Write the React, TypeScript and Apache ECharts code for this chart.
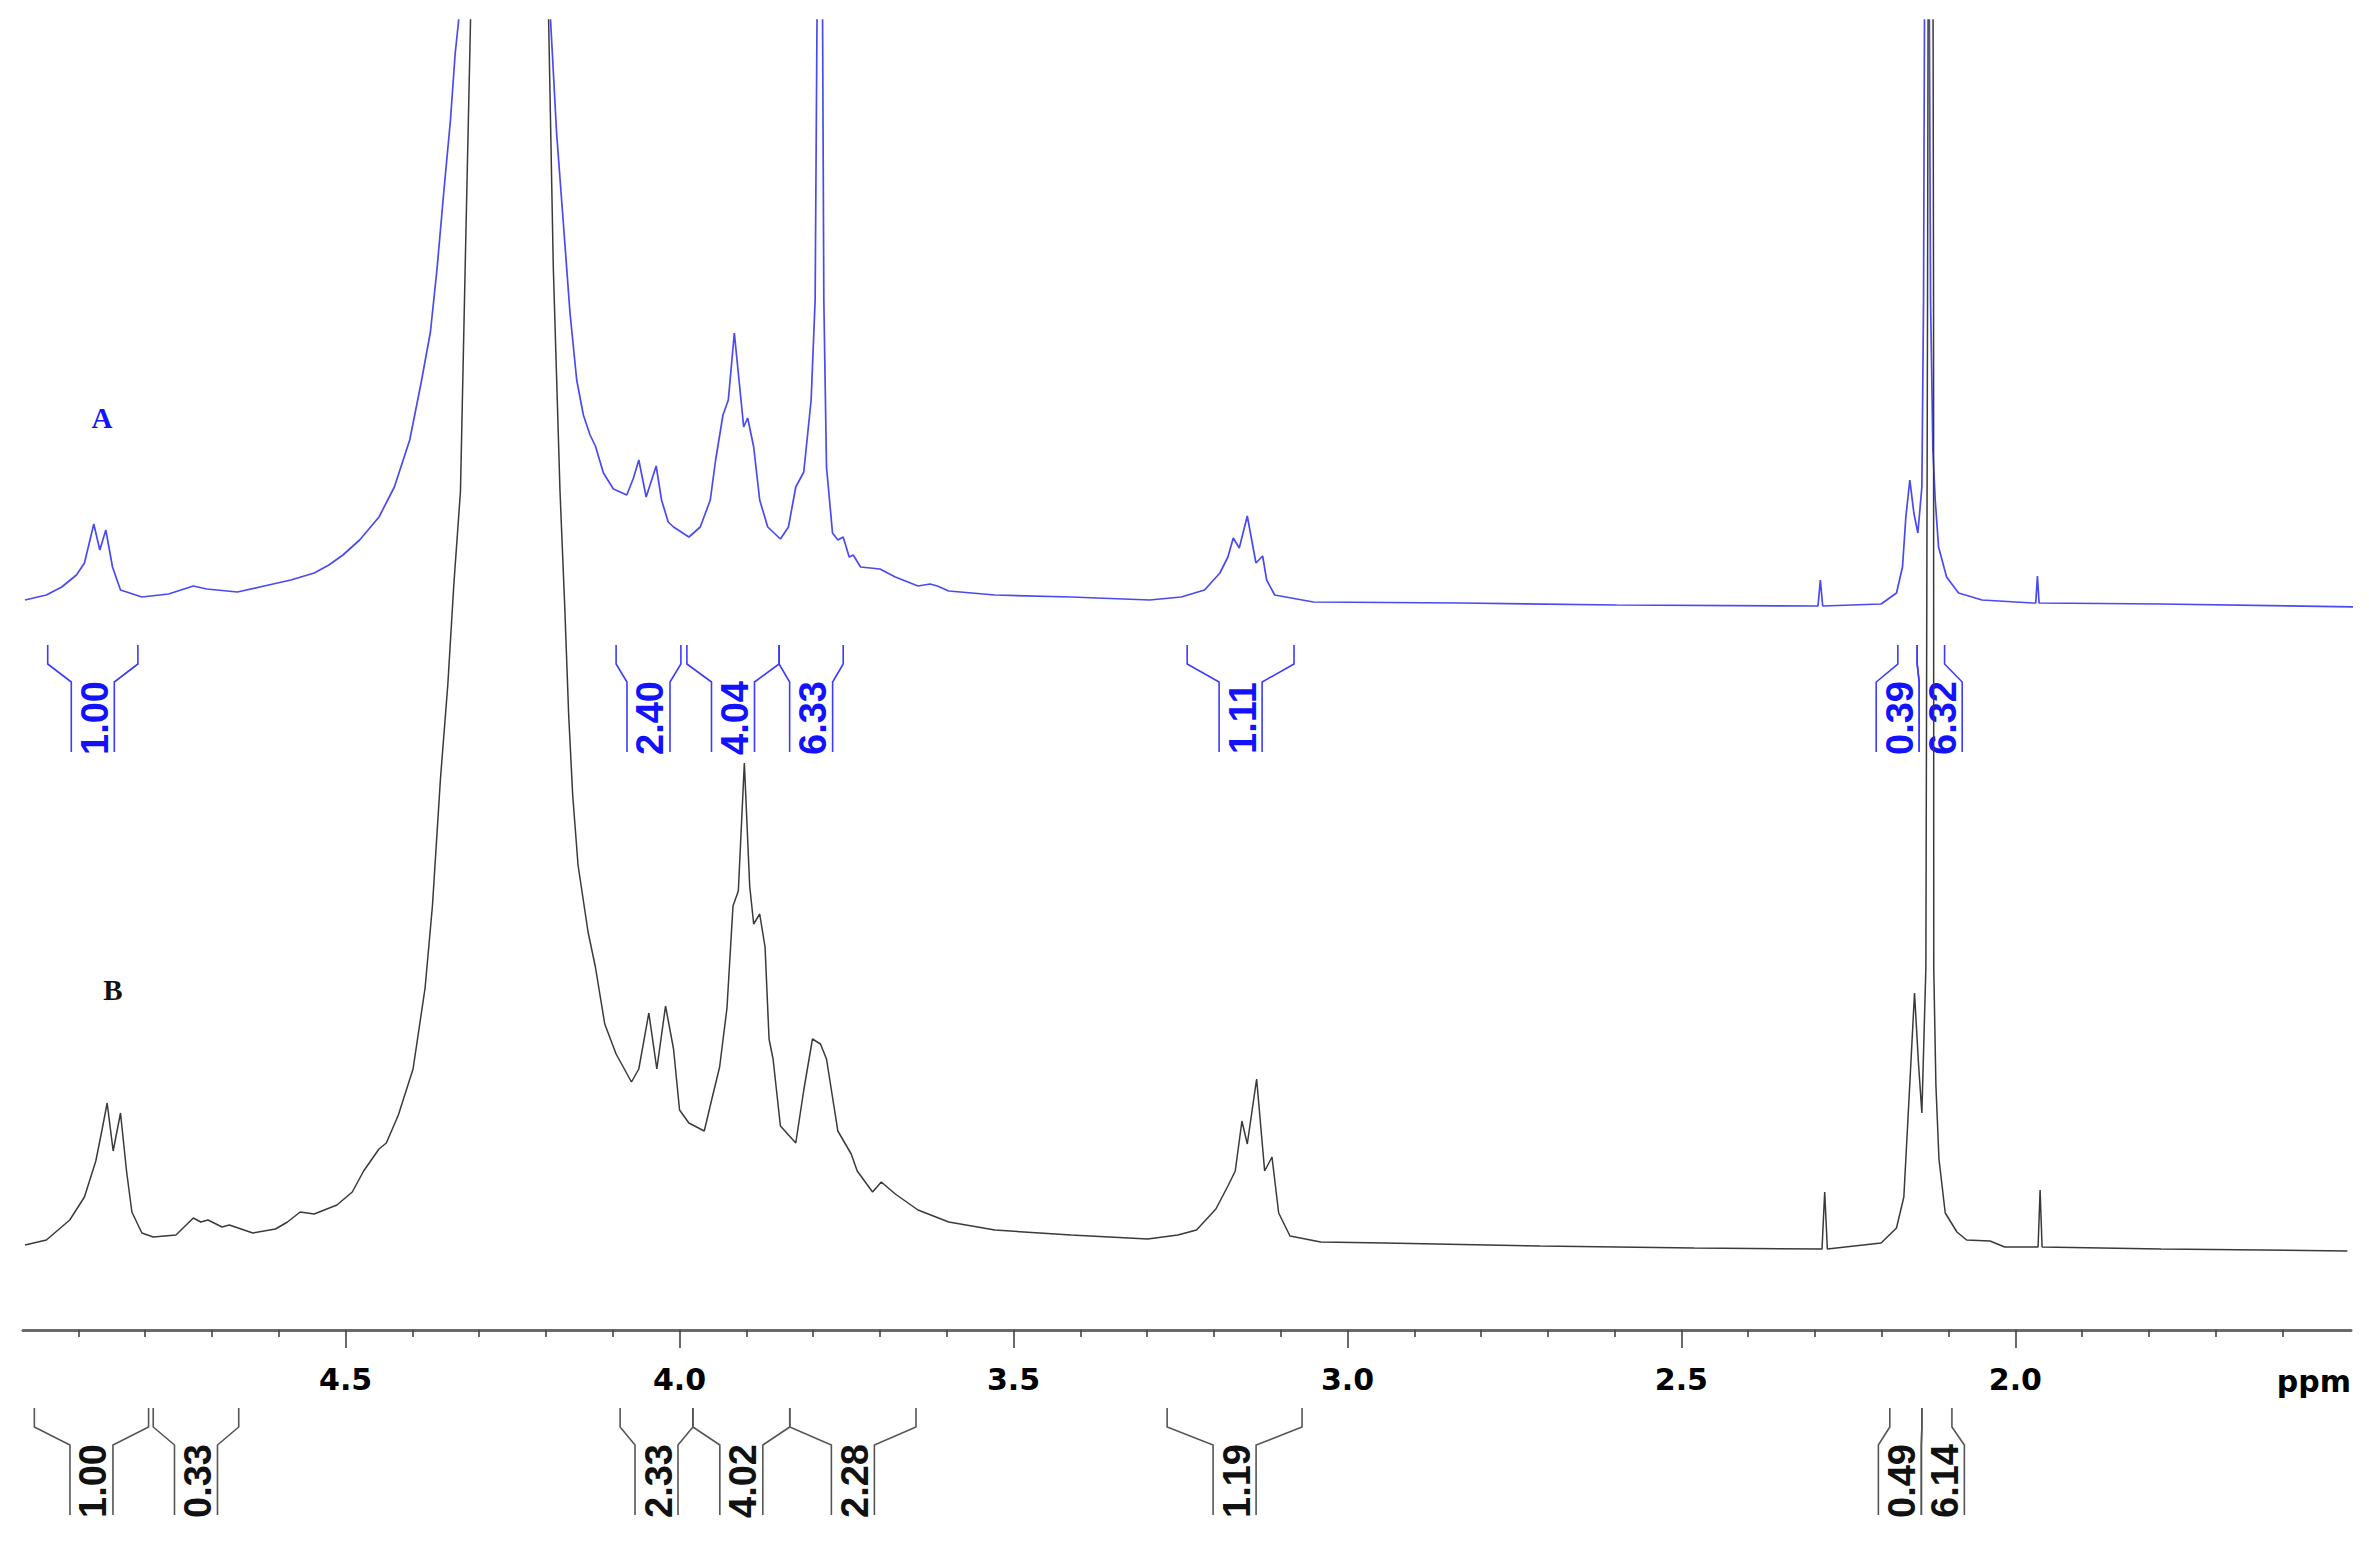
import React, { useEffect, useRef } from "react";
import * as echarts from "echarts";

// Chemical shift axis (ppm)
const ppmMin = 1.4975;
const ppmMax = 4.983;
const majorTicks = [4.5, 4.0, 3.5, 3.0, 2.5, 2.0];
const minorTicks = [4.9, 4.8, 4.7, 4.6, 4.4, 4.3, 4.2, 4.1, 3.9, 3.8, 3.7, 3.6, 3.4, 3.3, 3.2, 3.1, 2.9, 2.8, 2.7, 2.6, 2.4, 2.3, 2.2, 2.1, 1.9, 1.8, 1.7, 1.6];

// Spectrum A (blue, upper trace): [ppm, intensity above own baseline]
const spectrumA: number[][] = [
  [4.98, 0], [4.948, 5], [4.925, 13], [4.903, 25], [4.891, 37], [4.877, 76], [4.868, 50], [4.859, 70],
  [4.849, 33], [4.837, 10], [4.805, 3], [4.765, 6], [4.728, 14], [4.708, 11], [4.662, 8], [4.622, 14],
  [4.582, 20], [4.547, 27], [4.525, 35], [4.504, 45], [4.479, 60], [4.45, 83], [4.427, 113], [4.404, 160],
  [4.387, 217], [4.373, 268], [4.363, 332], [4.353, 408], [4.343, 480], [4.336, 546], [4.331, 578],
  [4.3, 900], [4.262, 1300], [4.22, 900], [4.193, 578], [4.184, 466], [4.174, 377], [4.164, 287],
  [4.154, 220], [4.144, 185], [4.134, 165], [4.126, 154], [4.114, 127], [4.099, 111], [4.079, 105],
  [4.069, 122], [4.061, 140], [4.05, 103], [4.035, 134], [4.027, 100], [4.017, 78], [4.009, 73],
  [3.986, 63], [3.969, 73], [3.954, 100], [3.946, 140], [3.935, 185], [3.927, 200], [3.918, 267],
  [3.908, 200], [3.904, 173], [3.898, 182], [3.889, 153], [3.88, 100], [3.868, 73], [3.849, 61],
  [3.837, 73], [3.826, 113], [3.814, 128], [3.803, 200], [3.797, 300], [3.794, 600], [3.79, 1500],
  [3.786, 600], [3.784, 300], [3.78, 133], [3.771, 67], [3.763, 60], [3.755, 63], [3.746, 43],
  [3.74, 45], [3.729, 33], [3.7, 31], [3.677, 23], [3.643, 14], [3.625, 16], [3.614, 14], [3.597, 9],
  [3.528, 5], [3.414, 3], [3.296, 0], [3.249, 3], [3.214, 10], [3.191, 27], [3.179, 43], [3.171, 62],
  [3.162, 52], [3.15, 84], [3.137, 37], [3.127, 44], [3.121, 20], [3.109, 5], [3.051, -2], [2.83, -3],
  [2.597, -5], [2.3, -6], [2.2955, -6], [2.292, 20], [2.2885, -6], [2.201, -4], [2.178, 7], [2.169, 33],
  [2.164, 83], [2.158, 120], [2.152, 87], [2.146, 67], [2.14, 113], [2.1375, 300], [2.1355, 700],
  [2.1325, 2000], [2.1295, 700], [2.127, 300], [2.1235, 150], [2.12, 100], [2.115, 53], [2.103, 23],
  [2.085, 7], [2.05, 0], [1.974, -3], [1.9695, -3], [1.967, 24], [1.9645, -3], [1.782, -4], [1.492, -7],
];

// Spectrum B (black, lower trace): [ppm, intensity above own baseline]
const spectrumB: number[][] = [
  [4.98, 0], [4.948, 5], [4.913, 25], [4.891, 48], [4.874, 84], [4.865, 114], [4.857, 142], [4.848, 94],
  [4.837, 132], [4.828, 74], [4.82, 33], [4.805, 12], [4.788, 8], [4.754, 10], [4.728, 27], [4.717, 23],
  [4.706, 25], [4.685, 18], [4.674, 20], [4.639, 12], [4.605, 16], [4.587, 23], [4.568, 33], [4.547, 31],
  [4.513, 40], [4.49, 53], [4.473, 74], [4.45, 96], [4.439, 102], [4.421, 130], [4.399, 176], [4.381, 257],
  [4.37, 339], [4.358, 466], [4.347, 560], [4.338, 660], [4.328, 754], [4.321, 977], [4.313, 1223],
  [4.3, 1600], [4.255, 2600], [4.21, 1600], [4.196, 1223], [4.189, 977], [4.179, 754], [4.172, 640],
  [4.166, 530], [4.16, 450], [4.152, 380], [4.137, 313], [4.126, 278], [4.112, 221], [4.095, 191],
  [4.072, 163], [4.061, 176], [4.046, 232], [4.034, 176], [4.021, 239], [4.009, 196], [4.0, 135],
  [3.986, 122], [3.963, 114], [3.952, 145], [3.94, 178], [3.929, 237], [3.92, 339], [3.912, 354],
  [3.903, 482], [3.895, 359], [3.889, 321], [3.88, 331], [3.872, 298], [3.866, 206], [3.86, 186],
  [3.849, 119], [3.826, 102], [3.814, 155], [3.801, 206], [3.789, 201], [3.78, 186], [3.763, 114],
  [3.743, 91], [3.734, 74], [3.711, 53], [3.698, 63], [3.677, 51], [3.643, 35], [3.597, 23], [3.528, 15],
  [3.414, 10], [3.299, 6], [3.254, 10], [3.226, 15], [3.197, 36], [3.179, 59], [3.168, 74], [3.158, 124],
  [3.15, 101], [3.136, 166], [3.124, 74], [3.113, 88], [3.103, 32], [3.086, 9], [3.04, 3], [2.944, 2],
  [2.712, -1], [2.481, -3], [2.2895, -4], [2.2855, 53], [2.2815, -4], [2.201, 2], [2.178, 17], [2.167, 48],
  [2.158, 162], [2.151, 252], [2.145, 181], [2.14, 132], [2.134, 277], [2.1315, 945], [2.1268, 2600],
  [2.1225, 945], [2.1222, 277], [2.119, 160], [2.1144, 86], [2.105, 32], [2.0875, 13], [2.073, 5],
  [2.038, 4], [2.016, -2], [1.966, -2], [1.963, 55], [1.96, -2], [1.782, -4], [1.503, -6],
];

// Integrals: [from ppm, to ppm, value]
const integralsA: [number, number, string][] = [
  [4.946, 4.811, "1.00"], [4.095, 3.998, "2.40"], [3.989, 3.851, "4.04"], [3.851, 3.755, "6.33"],
  [3.24, 3.08, "1.11"], [2.176, 2.147, "0.39"], [2.147, 2.106, "6.32"],
];
const integralsB: [number, number, string][] = [
  [4.966, 4.795, "1.00"], [4.788, 4.66, "0.33"], [4.089, 3.98, "2.33"], [3.98, 3.835, "4.02"],
  [3.835, 3.646, "2.28"], [3.27, 3.068, "1.19"], [2.188, 2.14, "0.49"], [2.14, 2.095, "6.14"],
];

const BLUE_LINE = "#4a4af4";
const BLUE_TEXT = "#1212ff";

function bracketRenderer(items: [number, number, string][], lineColor: string, textColor: string, topOffset: number) {
  return (params: any, api: any) => {
    const idx = params.dataIndex;
    const W = 43;
    const base = api.coord([items[0][0], 0])[1];
    const centers = items.map((d) => (api.coord([d[0], 0])[0] + api.coord([d[1], 0])[0]) / 2);
    const c = centers.slice();
    for (let pass = 0; pass < 4; pass++) {
      for (let j = 0; j < c.length - 1; j++) {
        const gap = c[j + 1] - c[j];
        if (gap < W) {
          const d = (W - gap) / 2;
          c[j] -= d;
          c[j + 1] += d;
        }
      }
    }
    const xL = api.coord([items[idx][0], 0])[0];
    const xR = api.coord([items[idx][1], 0])[0];
    const iL = c[idx] - W / 2;
    const iR = c[idx] + W / 2;
    const y0 = base + topOffset;
    const y1 = y0 + 19;
    const y2 = y0 + 37;
    const y3 = y0 + 107;
    return {
      type: "group",
      children: [
        { type: "polyline", shape: { points: [[xL, y0], [xL, y1], [iL, y2], [iL, y3]] }, style: { stroke: lineColor, lineWidth: 1.6, fill: "none" } },
        { type: "polyline", shape: { points: [[xR, y0], [xR, y1], [iR, y2], [iR, y3]] }, style: { stroke: lineColor, lineWidth: 1.6, fill: "none" } },
        {
          type: "text",
          x: c[idx] + 2,
          y: (y2 + y3) / 2 + 1,
          rotation: Math.PI / 2,
          style: {
            text: items[idx][2],
            fontFamily: "Liberation Sans, Arial, sans-serif",
            fontWeight: "bold",
            fontSize: 38,
            fill: textColor,
            align: "center",
            verticalAlign: "middle",
          },
        },
      ],
    };
  };
}

export default function App() {
  const ref = useRef<HTMLDivElement>(null);
  useEffect(() => {
    if (!ref.current) return;
    const chart = echarts.init(ref.current, null, { renderer: "svg" });
    const xCommon = {
      type: "value" as const,
      min: ppmMin,
      max: ppmMax,
      inverse: true,
      position: "bottom" as const,
      splitLine: { show: false },
    };
    chart.setOption({
      animation: false,
      backgroundColor: "#ffffff",
      grid: { left: 23, right: 18, top: 20, bottom: 214, containLabel: false },
      xAxis: [
        {
          ...xCommon,
          axisLine: { show: true, onZero: false, lineStyle: { color: "#6a6a6a", width: 3 } },
          axisTick: { show: true, customValues: majorTicks, length: 18, inside: false, lineStyle: { color: "#444", width: 1.6 } },
          axisLabel: {
            show: true,
            customValues: majorTicks,
            formatter: (v: number) => v.toFixed(1),
            margin: 34,
            color: "#000",
            fontFamily: "DejaVu Sans, sans-serif",
            fontWeight: "bold",
            fontSize: 30,
          },
        },
        {
          ...xCommon,
          axisLine: { show: false, onZero: false },
          axisTick: { show: true, customValues: minorTicks, length: 7, inside: false, lineStyle: { color: "#444", width: 1.6 } },
          axisLabel: { show: false, customValues: minorTicks },
        },
      ],
      yAxis: [
        { type: "value", min: -85, max: 1225, show: false, splitLine: { show: false } },
        { type: "value", min: -730, max: 580, show: false, splitLine: { show: false } },
      ],
      graphic: [
        {
          type: "text",
          x: 2351,
          y: 1381,
          style: { text: "ppm", fontFamily: "DejaVu Sans, sans-serif", fontWeight: "bold", fontSize: 30, fill: "#000", align: "right", verticalAlign: "middle" },
        },
        {
          type: "text",
          x: 102,
          y: 418,
          style: { text: "A", fontFamily: "Liberation Serif, serif", fontWeight: "bold", fontSize: 29, fill: BLUE_TEXT, align: "center", verticalAlign: "middle" },
        },
        {
          type: "text",
          x: 113,
          y: 990,
          style: { text: "B", fontFamily: "Liberation Serif, serif", fontWeight: "bold", fontSize: 29, fill: "#111", align: "center", verticalAlign: "middle" },
        },
      ],
      series: [
        {
          name: "A",
          type: "line",
          xAxisIndex: 0,
          yAxisIndex: 1,
          data: spectrumA,
          showSymbol: false,
          symbol: "none",
          clip: true,
          silent: true,
          lineStyle: { color: BLUE_LINE, width: 1.7 },
        },
        {
          name: "B",
          type: "line",
          xAxisIndex: 0,
          yAxisIndex: 0,
          data: spectrumB,
          showSymbol: false,
          symbol: "none",
          clip: true,
          silent: true,
          lineStyle: { color: "#3a3a3a", width: 1.5 },
        },
        {
          name: "integralsA",
          type: "custom",
          xAxisIndex: 0,
          yAxisIndex: 1,
          clip: false,
          silent: true,
          data: integralsA.map((d) => [d[0], d[1], 0]),
          encode: { x: [0, 1], y: 2 },
          renderItem: bracketRenderer(integralsA, "#3c3cff", BLUE_TEXT, 45),
        },
        {
          name: "integralsB",
          type: "custom",
          xAxisIndex: 0,
          yAxisIndex: 0,
          clip: false,
          silent: true,
          data: integralsB.map((d) => [d[0], d[1], 0]),
          encode: { x: [0, 1], y: 2 },
          renderItem: bracketRenderer(integralsB, "#555555", "#111111", 163),
        },
      ],
    });
    return () => chart.dispose();
  }, []);
  return (
    <div
      ref={ref}
      style={{ position: "fixed", left: 0, top: 0, width: 2369, height: 1544, background: "#fff" }}
    />
  );
}
